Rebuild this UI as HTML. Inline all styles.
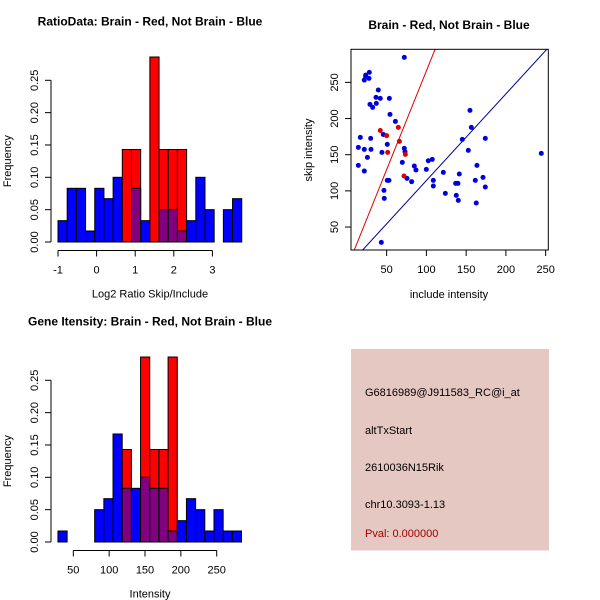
<!DOCTYPE html>
<html><head><meta charset="utf-8"><style>
body{margin:0;background:#fff}
svg{display:block;font-family:"Liberation Sans",sans-serif}
</style></head><body>
<svg id="s" width="600" height="600" viewBox="0 0 600 600">
<rect x="0" y="0" width="600" height="600" fill="#fff"/>
<rect x="351" y="349" width="198" height="201.5" fill="#e5c8c2"/>
<g font-size="11">
<text x="365" y="396">G6816989@J911583_RC@i_at</text>
<text x="365" y="434">altTxStart</text>
<text x="365" y="471">2610036N15Rik</text>
<text x="365" y="508">chr10.3093-1.13</text>
<text x="365" y="537" fill="#a00000">Pval: 0.000000</text>
</g>
</svg>
<script>
// Histogram 1 data
const h1Blue=[0.033,0.083,0.083,0.017,0.083,0.067,0.1,0,0.083,0.033,0,0.05,0.05,0.017,0.033,0.1,0.05,0,0.05,0.067];
const h1Red=[0,0,0,0,0,0,0,0.143,0.143,0,0.286,0.143,0.143,0.143,0,0,0,0,0,0];
const h1Start=-1, h1Width=0.238;
const h1XTicks=[-1,0,1,2,3];
const yTicks=[0,0.05,0.10,0.15,0.20,0.25];
const yTickLabels=["0.00","0.05","0.10","0.15","0.20","0.25"];
// Histogram 2 data
const h2Blue=[0.017,0,0,0,0.05,0.067,0.167,0.083,0.083,0.1,0.083,0.083,0.017,0.033,0.067,0.05,0.017,0.05,0.017,0.017];
const h2Red=[0,0,0,0,0,0,0,0.143,0,0.286,0.143,0.143,0.286,0,0,0,0,0,0,0];
const h2Start=28.6, h2Width=12.8;
const h2XTicks=[50,100,150,200,250];
// Scatter data
const blueX=[72.2,28.2,23.6,21.9,23.6,27.8,39.5,36.6,42,53.4,29,32.4,37,54.2,61,16.9,29.9,45.8,50.8,14.4,21.9,30.3,44.1,25.8,14.4,21.9,72.2,73.1,69.7,84.8,86.9,99.9,102.4,107.4,50.8,52.9,46.6,47,75.6,81.4,43.3,108.7,108.7,121.3,123.8,141.4,136.8,139.7,137.6,140.1,145.2,154.8,156.5,152.7,163.6,161.5,162.7,171.2,174.1,174.1,244.5];
const blueY=[284.6,263.8,260,253.2,257.8,255.5,239.4,229.3,227.9,227.9,219.6,215.4,221,205.8,196,174,172.6,178,164.3,160.1,157.4,157.4,153.2,146.3,135.3,127.4,158.8,154.1,139.4,134.3,128.8,129.7,141.7,143.5,114.5,114.5,100.7,89.6,117.3,112.7,28.8,114.5,106.7,125.6,96.5,123.3,110.4,110.4,93.8,86.9,171.2,211.3,187.8,156,135.3,114.5,83.2,118.7,172.6,105.3,151.8];
const redX=[42,50,64.7,66,51.3,73.5,71.8];
const redY=[183.5,176.3,187.8,168.4,153.2,150.5,120.5];
const redLine=[2.73,-7.1];   // slope, intercept
const blueLine=[1.198,-5.5];
const scXTicks=[50,100,150,200,250];
const scYTicks=[50,100,150,200,250];

const svg=document.getElementById('s');
const NS='http://www.w3.org/2000/svg';
function mk(tag,attrs,parent){const e=document.createElementNS(NS,tag);for(const k in attrs)e.setAttribute(k,attrs[k]);(parent||svg).appendChild(e);return e;}
function txt(x,y,s,attrs,parent){const e=mk('text',Object.assign({x:x,y:y},attrs),parent);e.textContent=s;return e;}

function histogram(name,blue,red,start,width,xTicks,xa,xb,y0,yTop,title,xlabel){
  const g=mk('g',{});
  
  
  const yPer=(y0-yTop)/0.25;
  const X=v=>xa+(v-h0)*xb; const h0=xTicks[0];
  const Y=v=>y0-v*yPer;
  for(let i=0;i<blue.length;i++){
    const x1=X(start+i*width), x2=X(start+(i+1)*width);
    const b=blue[i], r=red[i];
    if(r>0){
      const e=mk('rect',{x:x1,y:Y(r),width:x2-x1,height:Y(0)-Y(r),fill:'#ff0000',stroke:'#000','stroke-width':1},g);
      
      
    }
    if(b>0){
      const e=mk('rect',{x:x1,y:Y(b),width:x2-x1,height:Y(0)-Y(b),fill:r>0?'#800080':'#0000ff',stroke:'#000','stroke-width':1},g);
      
      
    }
  }
  // y axis
  mk('line',{x1:51,x2:51,y1:Y(0),y2:Y(0.25),stroke:'#000'},g);
  yTicks.forEach((t,i)=>{
    mk('line',{x1:45,x2:51,y1:Y(t),y2:Y(t),stroke:'#000'},g);
    txt(38,Y(t),yTickLabels[i],{'font-size':11,'text-anchor':'middle',transform:`rotate(-90 38 ${Y(t)})`},g);
  });
  const ax=y0+8.5;
  mk('line',{x1:X(xTicks[0]),x2:X(xTicks[xTicks.length-1]),y1:ax,y2:ax,stroke:'#000'},g);
  xTicks.forEach(t=>{
    mk('line',{x1:X(t),x2:X(t),y1:ax,y2:ax+6,stroke:'#000'},g);
    txt(X(t),ax+23,String(t),{'font-size':11,'text-anchor':'middle'},g);
  });
  const tt=txt(150,yTop-55+ (name==='ratio-histogram'?0:0),title,{'font-size':12,'font-weight':'bold','text-anchor':'middle'},g);
  
  
  const xl=txt(150,ax+47,xlabel,{'font-size':11,'text-anchor':'middle'},g);
  
  
  const yl=txt(11,(y0+yTop)/2,'Frequency',{'font-size':11,'text-anchor':'middle',transform:`rotate(-90 11 ${(y0+yTop)/2})`},g);
  
  
}
histogram('ratio-histogram',h1Blue,h1Red,h1Start,h1Width,h1XTicks,58,38.6,242,80.3,'RatioData: Brain - Red, Not Brain - Blue','Log2 Ratio Skip/Include');
histogram('intensity-histogram',h2Blue,h2Red,h2Start,h2Width,h2XTicks,73.3,0.717,542,380.3,'Gene Itensity: Brain - Red, Not Brain - Blue','Intensity');

// scatter
(function(){
  const g=mk('g',{});
  
  
  const X=v=>346.9+v*0.795, Y=v=>263.2-v*0.7233;
  const L=351,R=548.3,T=49.3,B=250;
  const cp=mk('clipPath',{id:'cp'},g);mk('rect',{x:L,y:T,width:R-L,height:B-T},cp);
  [[redLine,'#dd0000','red-fit-line'],[blueLine,'#000099','blue-fit-line']].forEach(([p,c,n])=>{
    const x1=(Y.call?0:0), xa=-50, xb=400;
    const e=mk('line',{x1:X(xa),y1:Y(p[0]*xa+p[1]),x2:X(xb),y2:Y(p[0]*xb+p[1]),stroke:c,'stroke-width':1,'clip-path':'url(#cp)'},g);
    
    
  });
  for(let i=0;i<blueX.length;i++){
    const e=mk('circle',{cx:X(blueX[i]),cy:Y(blueY[i]),r:2.5,fill:'#0000dd'},g);
    
    
  }
  for(let i=0;i<redX.length;i++){
    const e=mk('circle',{cx:X(redX[i]),cy:Y(redY[i]),r:2.5,fill:'#dd0000'},g);
    
    
  }
  mk('rect',{x:L,y:T,width:R-L,height:B-T,fill:'none',stroke:'#000'},g);
  scXTicks.forEach(t=>{mk('line',{x1:X(t),x2:X(t),y1:B,y2:B+6,stroke:'#000'},g);txt(X(t),B+23,String(t),{'font-size':11,'text-anchor':'middle'},g);});
  scYTicks.forEach(t=>{mk('line',{x1:L-6,x2:L,y1:Y(t),y2:Y(t),stroke:'#000'},g);txt(L-13,Y(t),String(t),{'font-size':11,'text-anchor':'middle',transform:`rotate(-90 ${L-13} ${Y(t)})`},g);});
  const t=txt(449,29,'Brain - Red, Not Brain - Blue',{'font-size':12,'font-weight':'bold','text-anchor':'middle'},g);
  
  
  const xl=txt(449,298,'include intensity',{'font-size':11,'text-anchor':'middle'},g);
  
  
  const yl=txt(312,150,'skip intensity',{'font-size':11,'text-anchor':'middle',transform:'rotate(-90 312 150)'},g);
  
  
})();
</script>
</body></html>
